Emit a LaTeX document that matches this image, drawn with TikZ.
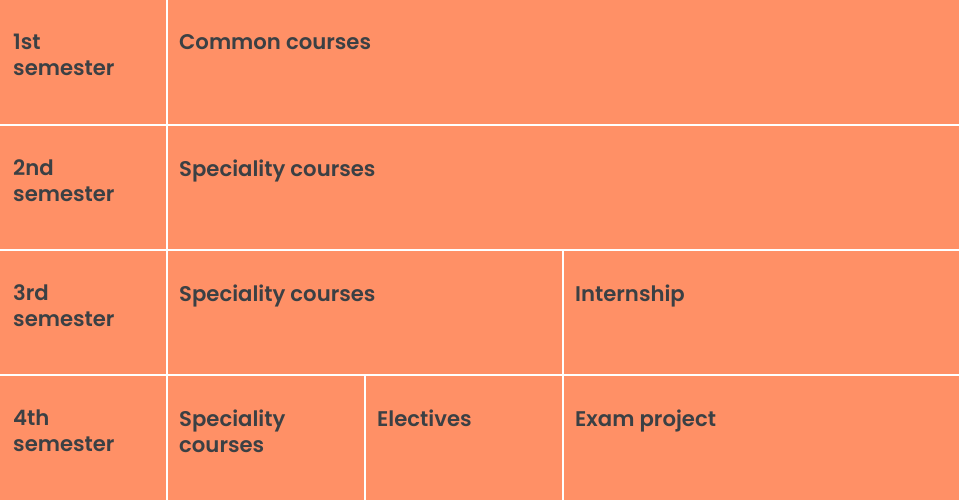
\documentclass[tikz,border=0pt]{standalone}
\usepackage{fontspec}
\setmainfont{Poppins}[BoldFont={Poppins SemiBold}]
\definecolor{cellorange}{HTML}{FF9066}
\definecolor{txt}{HTML}{3B4044}
\tikzset{
  cell/.style={fill=cellorange, draw=none, inner sep=0pt, anchor=north west},
  lbl/.style={anchor=north west, inner sep=0pt, align=left, text=txt,
    font=\fontsize{21.2}{26}\selectfont\bfseries},
}
\newcommand{\mkcell}[6]{%
  \node[cell, minimum width={(#4-#2)*1pt}, minimum height={(#5-#3)*1pt}] (#1) at (#2,#3) {};
  \node[lbl] (#1t) at ([shift={(11,33.5)}]#1.north west) {\rule{0pt}{16pt}#6};
}
\begin{document}
\begin{tikzpicture}[x=1pt,y=-1pt]
\path[fill=white, use as bounding box] (0,0) rectangle (960,500);
\mkcell{a1}{0}{0}{165.5}{123.5}{\hspace{2pt}1st\\\hspace{2pt}semester}
\mkcell{b1}{168}{0}{958.5}{123.5}{Common courses}
\mkcell{a2}{0}{126}{165.5}{248.5}{\hspace{2pt}2nd\\\hspace{2pt}semester}
\mkcell{b2}{168}{126}{958.5}{248.5}{Speciality courses}
\mkcell{a3}{0}{251}{165.5}{373.5}{\hspace{2pt}3rd\\\hspace{2pt}semester}
\mkcell{b3}{168}{251}{561.5}{373.5}{Speciality courses}
\mkcell{c3}{564}{251}{958.5}{373.5}{Internship}
\mkcell{a4}{0}{376}{165.5}{500}{\hspace{2pt}4th\\\hspace{2pt}semester}
\mkcell{b4}{168}{376}{363.5}{500}{Speciality\\courses}
\mkcell{c4}{366}{376}{561.5}{500}{Electives}
\mkcell{d4}{564}{376}{958.5}{500}{Exam project}
\end{tikzpicture}
\end{document}
